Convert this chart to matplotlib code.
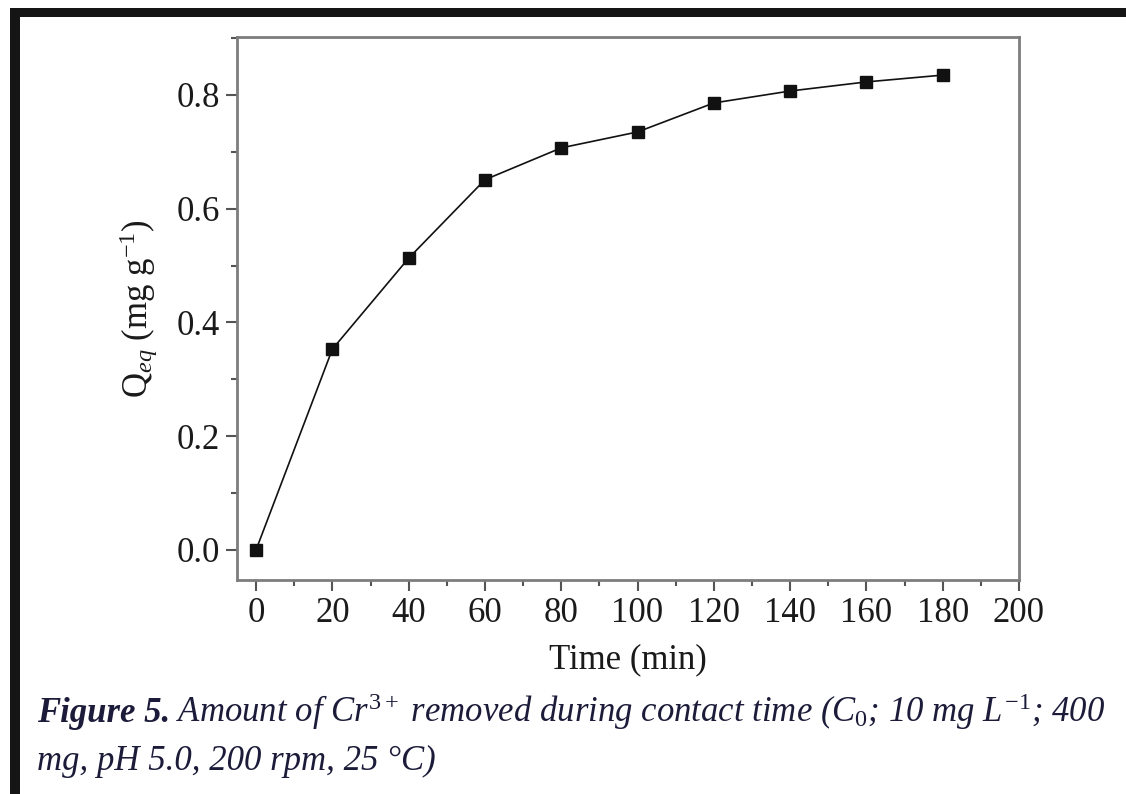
import matplotlib
matplotlib.use("Agg")
import matplotlib.pyplot as plt
from matplotlib.patches import Rectangle
from matplotlib.ticker import MultipleLocator

# contact time data
time_min = [0, 20, 40, 60, 80, 100, 120, 140, 160, 180]
q_eq = [0.0, 0.353, 0.513, 0.651, 0.707, 0.735, 0.786, 0.807, 0.823, 0.835]

x_ticks = [0, 20, 40, 60, 80, 100, 120, 140, 160, 180, 200]
y_ticks = [0.0, 0.2, 0.4, 0.6, 0.8]

plt.rcParams['font.family'] = ['Liberation Serif', 'DejaVu Serif']
plt.rcParams['mathtext.fontset'] = 'custom'
plt.rcParams['mathtext.rm'] = 'Liberation Serif'
plt.rcParams['mathtext.it'] = 'Liberation Serif:italic'
plt.rcParams['mathtext.bf'] = 'Liberation Serif:bold'

W, H = 1126, 794
fig = plt.figure(figsize=(W / 100, H / 100), dpi=100)
fig.patch.set_facecolor('white')

# black frame of the screenshot (top and left)
fig.add_artist(Rectangle((10 / W, 0), 10 / W, 1 - 8 / H, transform=fig.transFigure,
                         facecolor='#151515', edgecolor='none'))
fig.add_artist(Rectangle((10 / W, 1 - 17 / H), 1, 9 / H, transform=fig.transFigure,
                         facecolor='#151515', edgecolor='none'))

ax = fig.add_axes([237 / W, 1 - 580 / H, (1019 - 237) / W, (580 - 37) / H])
ax.plot(time_min, q_eq, color='#111111', lw=1.2, marker='s', ms=8,
        mfc='#111111', mec='#111111')

ax.set_xlim(-5, 200)
ax.set_ylim(-0.053, 0.902)
ax.set_xticks(x_ticks)
ax.set_yticks(y_ticks)
ax.set_yticklabels(['%.1f' % v for v in y_ticks])
ax.xaxis.set_minor_locator(MultipleLocator(10))
ax.yaxis.set_minor_locator(MultipleLocator(0.1))

for s in ax.spines.values():
    s.set_color('#7d7d7d')
    s.set_linewidth(2)

ax.tick_params(which='major', direction='out', length=8, width=1.5, color='#555555',
               labelsize=25, labelcolor='#1a1a1a', pad=4)
ax.tick_params(which='minor', direction='out', length=4, width=1.5, color='#555555')
ax.tick_params(top=False, right=False, which='both')

ax.set_xlabel('Time (min)', fontsize=25, color='#1a1a1a', labelpad=10)
ax.set_ylabel(r'Q$_{eq}$ (mg g$^{-1}$)', fontsize=25, color='#1a1a1a', labelpad=12)

# caption under the chart
cap_color = '#1c1c3a'
t1 = fig.text(37 / W, 1 - 722 / H, 'Figure 5.', fontsize=25, fontweight='bold',
              fontstyle='italic', color=cap_color, va='baseline')
fig.canvas.draw()
bb = t1.get_window_extent(renderer=fig.canvas.get_renderer())
fig.text(bb.x1 / W + 6 / W, 1 - 722 / H,
         r'Amount of $\mathit{Cr}^{3+}$ removed during contact time ($\mathit{C}_{0}$; '
         r'10 mg $\mathit{L}^{-1}$; 400',
         fontsize=25, fontstyle='italic', color=cap_color, va='baseline')
fig.text(37 / W, 1 - 770 / H, 'mg, pH 5.0, 200 rpm, 25 °C)', fontsize=25,
         fontstyle='italic', color=cap_color, va='baseline')

fig.savefig('out.png', dpi=100)
